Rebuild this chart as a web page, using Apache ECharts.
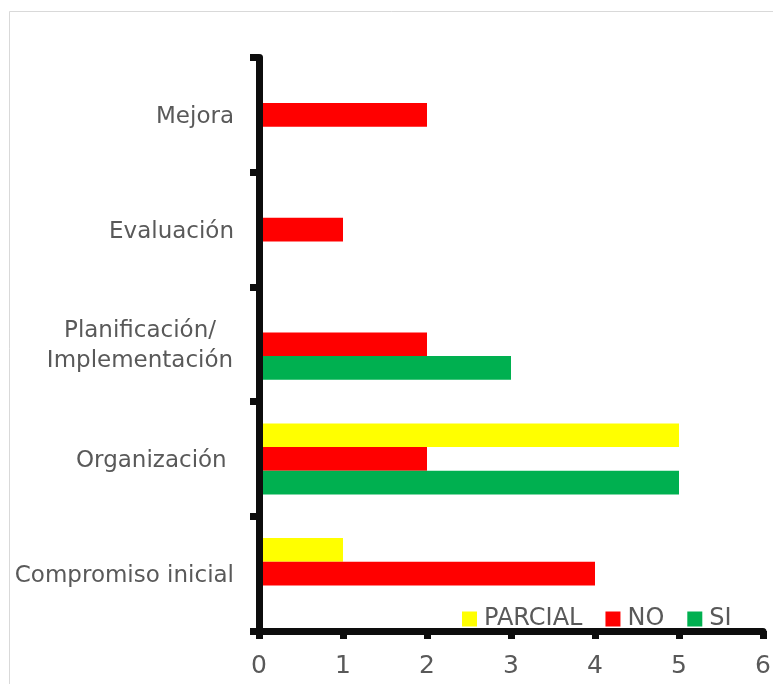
<!DOCTYPE html>
<html>
<head>
<meta charset="utf-8">
<script src="https://cdn.jsdelivr.net/npm/echarts@6/dist/echarts.min.js"></script>
<style>
  html, body { margin: 0; padding: 0; background: #fff; }
  #chart { width: 773px; height: 684px; }
</style>
</head>
<body>
<div id="chart"></div>
<script>
// Categories, bottom to top
const categories = ['Compromiso inicial', 'Organización ', 'Planificación/\nImplementación', 'Evaluación', 'Mejora'];
// Number of items per answer
const siValues      = [0, 5, 3, 0, 0];
const noValues      = [4, 2, 2, 1, 2];
const parcialValues = [1, 5, 0, 0, 0];
const xTicks = [0, 1, 2, 3, 4, 5, 6];

const FONT = 'DejaVu Sans';
const TEXT = '#595959';
const AXIS = '#0d0d0d';

const chart = echarts.init(document.getElementById('chart'), null, { renderer: 'canvas' });

chart.setOption({
  animation: false,
  backgroundColor: '#fff',
  textStyle: { fontFamily: FONT },
  graphic: [{
    type: 'rect',
    shape: { x: 9.5, y: 11.5, width: 800, height: 700 },
    style: { fill: 'none', stroke: '#d9d9d9', lineWidth: 1 },
    silent: true
  }],
  grid: { left: 259, right: 10, top: 57.5, bottom: 53, containLabel: false, outerBoundsMode: 'none' },
  legend: {
    data: ['PARCIAL', 'NO', 'SI'],
    left: 462,
    top: 607,
    padding: 0,
    itemWidth: 15,
    itemHeight: 15,
    itemGap: 23,
    icon: 'rect',
    z: 10,
    textStyle: { fontFamily: FONT, fontSize: 24, color: TEXT, padding: [0, 0, 0, 2], lineHeight: 24 }
  },
  xAxis: {
    type: 'value',
    min: xTicks[0],
    max: xTicks[xTicks.length - 1],
    interval: 1,
    z: 3,
    splitLine: { show: false },
    axisLine: { show: true, lineStyle: { color: AXIS, width: 7 } },
    axisTick: { show: true, length: 8, lineStyle: { color: AXIS, width: 7 } },
    axisLabel: { fontFamily: FONT, fontSize: 25, color: TEXT, margin: 23, verticalAlign: 'top', lineHeight: 25 }
  },
  yAxis: {
    type: 'category',
    data: categories,
    z: 3,
    axisLine: { show: true, lineStyle: { color: AXIS, width: 7 } },
    axisTick: { show: true, length: 9, lineStyle: { color: AXIS, width: 7 } },
    axisLabel: {
      fontFamily: FONT, fontSize: 23, color: TEXT, margin: 25, lineHeight: 30, padding: [4, 0, 0, 0],
      formatter: function (v) {
        return v.indexOf('\n') >= 0 ? '{c|' + v + '}' : v;
      },
      rich: {
        c: { fontFamily: FONT, fontSize: 23, color: TEXT, lineHeight: 30, width: 188, align: 'center' }
      }
    }
  },
  // within each band the first series is drawn on top
  series: [
    { name: 'PARCIAL', type: 'bar', data: parcialValues, itemStyle: { color: '#ffff00' }, barGap: '0%', barCategoryGap: '38%' },
    { name: 'NO', type: 'bar', data: noValues, itemStyle: { color: '#ff0000' }, barGap: '0%', barCategoryGap: '38%' },
    { name: 'SI', type: 'bar', data: siValues, itemStyle: { color: '#00b050' }, barGap: '0%', barCategoryGap: '38%' }
  ]
});
</script>
</body>
</html>
